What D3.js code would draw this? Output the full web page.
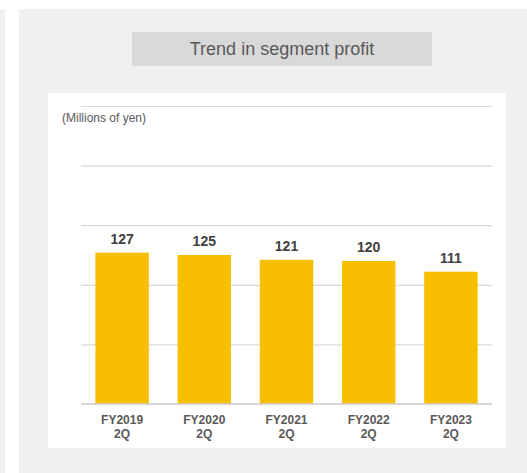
<!DOCTYPE html>
<html><head><meta charset="utf-8">
<script src="https://cdn.jsdelivr.net/npm/d3@7"></script>
<style>html,body{margin:0;padding:0;background:#fff;}svg{display:block;}</style>
</head><body>
<script>
const categories = ["FY2019\n2Q","FY2020\n2Q","FY2021\n2Q","FY2022\n2Q","FY2023\n2Q"];
const profits = [127,125,121,120,111];
const yTicks = [0,50,100,150,200,250];
const titleText = "Trend in segment profit";
const unitText = "(Millions of yen)";

const W = 527, H = 473;
const svg = d3.select("body").append("svg").attr("width", W).attr("height", H)
  .style("font-family", "'Liberation Sans', Arial, sans-serif");

// backgrounds
svg.append("rect").attr("x",0).attr("y",9).attr("width",5).attr("height",H-9).attr("fill","#f0f0f0");
svg.append("rect").attr("x",19).attr("y",9).attr("width",W-19).attr("height",H-9).attr("fill","#f0f0f0");
svg.append("rect").attr("x",132).attr("y",32).attr("width",300).attr("height",34).attr("fill","#d9d9d9");
svg.append("text").attr("x",282).attr("y",55).attr("text-anchor","middle")
  .attr("font-size",18).attr("fill","#595959").text(titleText);
svg.append("rect").attr("x",48).attr("y",93).attr("width",458).attr("height",355).attr("fill","#fff");
svg.append("text").attr("x",62).attr("y",122).attr("font-size",12).attr("fill","#595959").text(unitText);

const x = d3.scaleBand().domain(categories).range([81,492]).paddingInner(0.35).paddingOuter(0.175);
const y = d3.scaleLinear().domain([0,250]).range([404,106]);

// gridlines
const grid = svg.append("g").attr("transform","translate(81,0)")
  .call(d3.axisLeft(y).tickValues(yTicks).tickSize(-411).tickFormat(""));
grid.select(".domain").remove();
grid.selectAll(".tick line").attr("stroke","#d9d9d9").attr("stroke-width",1.2);

// bars
svg.selectAll("rect.bar").data(profits).join("rect").attr("class","bar")
  .attr("x",(d,i)=>x(categories[i])).attr("width",x.bandwidth())
  .attr("y",d=>y(d)).attr("height",d=>y(0)-y(d)).attr("fill","#f8bf00");

// baseline
svg.append("line").attr("x1",81).attr("x2",492).attr("y1",y(0)).attr("y2",y(0))
  .attr("stroke","#d0d0d0").attr("stroke-width",1.3);

// value labels
svg.selectAll("text.val").data(profits).join("text").attr("class","val")
  .attr("x",(d,i)=>x(categories[i])+x.bandwidth()/2).attr("y",d=>y(d)-9)
  .attr("text-anchor","middle").attr("font-size",14).attr("font-weight","bold")
  .attr("fill","#404040").text(d=>d);

// x axis labels
const xa = svg.append("g").attr("transform",`translate(0,${y(0)})`)
  .call(d3.axisBottom(x).tickSize(0).tickFormat(""));
xa.select(".domain").remove();
xa.selectAll(".tick").each(function(d){
  const t = d3.select(this).append("text").attr("text-anchor","middle")
    .attr("font-size",12).attr("font-weight","bold").attr("fill","#595959");
  d.split("\n").forEach((s,i)=>t.append("tspan").attr("x",0).attr("y",20+i*14).text(s));
});
</script>
</body></html>
